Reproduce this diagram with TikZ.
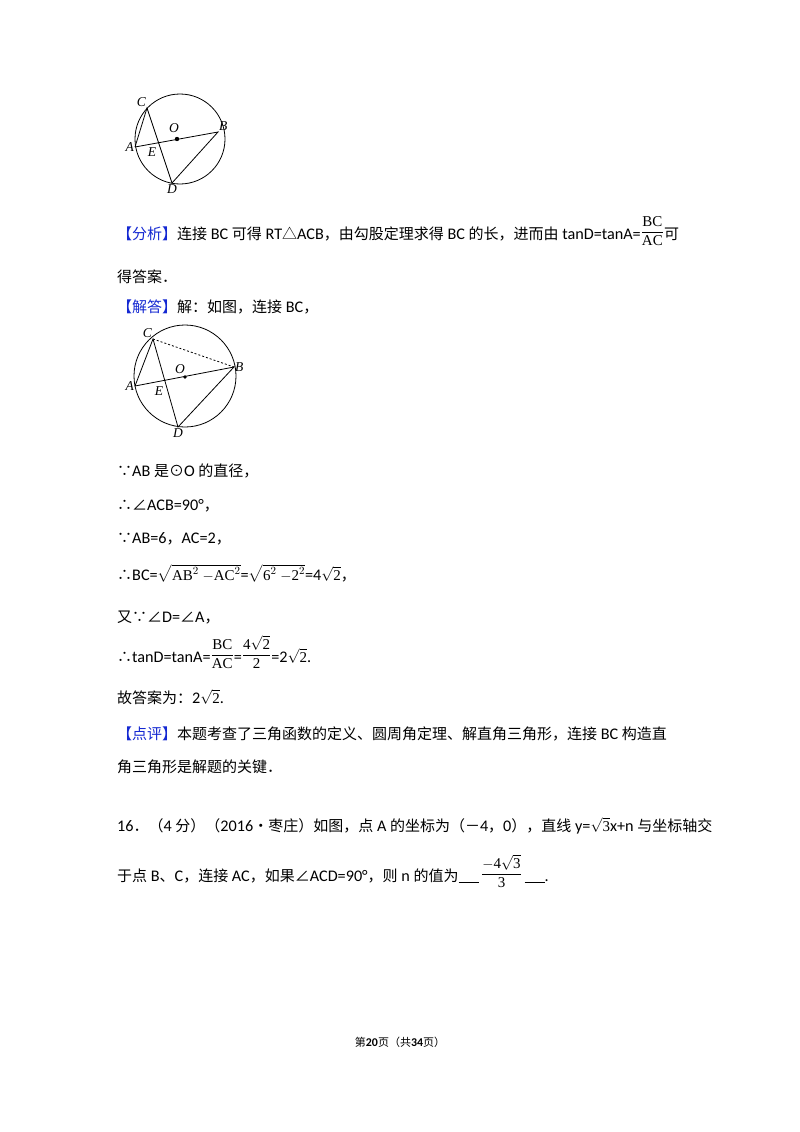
\documentclass[tikz,border=0pt]{standalone}
\usepackage{amsmath}
\usepackage{fontspec}
\setmainfont[Scale=1.08]{Carlito}
\newfontfamily\cjk{Noto Sans CJK SC}
\newfontfamily\tms{Liberation Serif}
\newcommand\z[1]{{\cjk #1}}
\definecolor{hb}{RGB}{20,40,210}
\newcommand\bl[1]{{\cjk\color{hb}#1}}
\newcommand\fr[2]{\raisebox{0.4ex}{\tms\fontsize{15}{15}\selectfont$\genfrac{}{}{0.5pt}{0}{\hbox{#1}}{\hbox{#2}}$}}
\newcommand\sq[1]{{\tms$\sqrt{\hbox{#1}}$}}
\newcommand\blank{\rule[-2pt]{20pt}{0.6pt}}
\begin{document}
\begin{tikzpicture}[x=1pt,y=-1pt,
  t/.style={anchor=base west,inner sep=0pt,font=\fontsize{15}{18}\selectfont},
  lab/.style={font=\tms\itshape\fontsize{13.5}{13}\selectfont,inner sep=1pt},
  ln/.style={line width=0.8pt}]
\useasboundingbox[fill=white] (0,0) rectangle (800,1132);
% figure 1
\coordinate (O1) at (180,139);
\draw[ln] (O1) circle (45);
\coordinate (A1) at (135,147); \coordinate (B1) at (218,132);
\coordinate (C1) at (147,108); \coordinate (D1) at (172,183);
\draw[ln] (A1)--(B1)--(D1)--(C1)--(A1);
\fill (177,139) circle (2.2);
\node[lab,left] at (A1) {A}; \node[lab,above right] at (B1) {B};
\node[lab,above left] at (C1) {C}; \node[lab,below] at (D1) {D};
\node[lab] at (174,128) {O}; \node[lab] at (152,152) {E};
% text
\node[t] (l1) at (117,239) {\bl{【分析】}\z{连接}~BC~\z{可得}~RT\z{△}ACB\z{，由勾股定理求得}~BC~\z{的长，进而由}~tanD=tanA=\fr{BC}{AC}\z{可}};
\node[t] (l2) at (117,282) {\z{得答案．}};
\node[t] (l3) at (117,312) {\bl{【解答】}\z{解：如图，连接}~BC\z{，}};
% figure 2
\coordinate (O2) at (185,376);
\draw[ln] (O2) circle (51);
\coordinate (A2) at (135,386); \coordinate (B2) at (234,367);
\coordinate (C2) at (153,339); \coordinate (D2) at (178,427);
\draw[ln] (A2)--(B2)--(D2)--(C2)--(A2);
\draw[ln,dash pattern=on 2pt off 2pt] (C2)--(B2);
\fill (185,377) circle (1.8);
\node[lab,left] at (A2) {A}; \node[lab,right] at (B2) {B};
\node[lab,above left] at (C2) {C}; \node[lab,below] at (D2) {D};
\node[lab] at (180,369) {O}; \node[lab] at (159,391) {E};
\node[t] (l4) at (117,476) {\z{∵}AB~\z{是⊙}O~\z{的直径，}};
\node[t] (l5) at (117,510) {\z{∴∠}ACB=90°\z{，}};
\node[t] (l6) at (117,543) {\z{∵}AB=6\z{，}AC=2\z{，}};
\node[t] (l7) at (117,580) {\z{∴}BC=\sq{AB$^{2}$ $-$AC$^{2}$}=\sq{6$^{2}$ $-$2$^{2}$}=4\sq{2}\z{，}};
\node[t] (l8) at (117,622) {\z{又∵∠}D=\z{∠}A\z{，}};
\node[t] (l9) at (117,662) {\z{∴}tanD=tanA=\fr{BC}{AC}=\fr{4\sq{2}}{2}=2\sq{2}.};
\node[t] (l10) at (117,703) {\z{故答案为：}2\sq{2}.};
\node[t] (l11) at (117,739) {\bl{【点评】}\z{本题考查了三角函数的定义、圆周角定理、解直角三角形，连接}~BC~\z{构造直}};
\node[t] (l12) at (117,772) {\z{角三角形是解题的关键．}};
\node[t] (l13) at (117,831) {16\z{．（}4~\z{分）（}2016\z{•枣庄）如图，点}~A~\z{的坐标为（－}4\z{，}0\z{），直线}~y=\sq{3}x+n~\z{与坐标轴交}};
\node[t] (l14) at (117,881) {\z{于点}~B\z{、}C\z{，连接}~AC\z{，如果∠}ACD=90°\z{，则}~n~\z{的值为}\blank\,\fr{$-$4\sq{3}}{3}\,\blank.};
\node[anchor=base,inner sep=0pt,font=\fontsize{11}{12}\selectfont] (ft) at (400,1046) {\z{第}\textbf{20}\z{页（共}\textbf{34}\z{页）}};
\end{tikzpicture}
\end{document}
